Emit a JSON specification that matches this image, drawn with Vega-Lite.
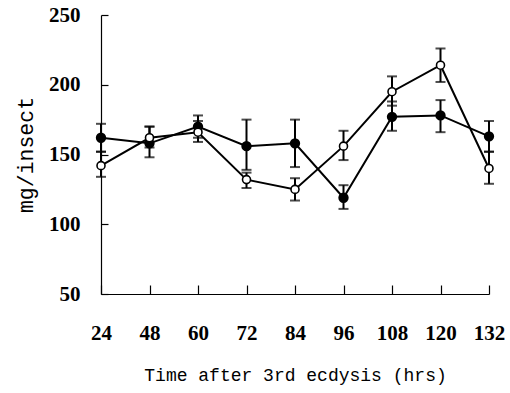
{
  "$schema": "https://vega.github.io/schema/vega-lite/v6.json",
  "width": 388,
  "height": 279,
  "autosize": "none",
  "padding": {"left": 101, "top": 15, "right": 21, "bottom": 99},
  "background": "white",
  "config": {"view": {"stroke": null}},
  "data": {"values": [
    {"t": "24", "s": "filled", "v": 162, "lo": 152, "hi": 172},
    {"t": "48", "s": "filled", "v": 158, "lo": 148, "hi": 170},
    {"t": "60", "s": "filled", "v": 170, "lo": 162, "hi": 178},
    {"t": "72", "s": "filled", "v": 156, "lo": 139, "hi": 175},
    {"t": "84", "s": "filled", "v": 158, "lo": 141, "hi": 175},
    {"t": "96", "s": "filled", "v": 119, "lo": 111, "hi": 128},
    {"t": "108", "s": "filled", "v": 177, "lo": 167, "hi": 188},
    {"t": "120", "s": "filled", "v": 178, "lo": 166, "hi": 189},
    {"t": "132", "s": "filled", "v": 163, "lo": 152, "hi": 174},
    {"t": "24", "s": "open", "v": 142, "lo": 134, "hi": 152},
    {"t": "48", "s": "open", "v": 162, "lo": 155, "hi": 170},
    {"t": "60", "s": "open", "v": 166, "lo": 159, "hi": 174},
    {"t": "72", "s": "open", "v": 132, "lo": 126, "hi": 137},
    {"t": "84", "s": "open", "v": 125, "lo": 117, "hi": 133},
    {"t": "96", "s": "open", "v": 156, "lo": 146, "hi": 167},
    {"t": "108", "s": "open", "v": 195, "lo": 185, "hi": 206},
    {"t": "120", "s": "open", "v": 214, "lo": 202, "hi": 226},
    {"t": "132", "s": "open", "v": 140, "lo": 129, "hi": 152}
  ]},
  "encoding": {
    "x": {
      "field": "t", "type": "ordinal", "sort": null,
      "scale": {"type": "point", "padding": 0},
      "axis": {
        "title": "Time after 3rd ecdysis (hrs)",
        "labelAngle": 0,
        "labelFont": "Liberation Serif", "labelFontSize": 21, "labelFontWeight": "bold", "labelColor": "#000",
        "labelPadding": 37, "labelBaseline": "top",
        "titleFont": "Liberation Mono", "titleFontSize": 18, "titleFontWeight": "normal", "titleColor": "#000",
        "titlePadding": 23,
        "domainColor": "#000", "domainWidth": 1.2,
        "tickColor": "#000", "tickSize": -9, "tickWidth": 1.2
      }
    }
  },
  "layer": [
    {
      "mark": {"type": "rule", "color": "#000", "strokeWidth": 2},
      "encoding": {
        "y": {"field": "lo", "type": "quantitative"},
        "y2": {"field": "hi"}
      }
    },
    {
      "mark": {"type": "tick", "color": "#000", "size": 10, "thickness": 2, "orient": "horizontal"},
      "encoding": {"y": {"field": "lo", "type": "quantitative"}}
    },
    {
      "mark": {"type": "tick", "color": "#000", "size": 10, "thickness": 2, "orient": "horizontal"},
      "encoding": {"y": {"field": "hi", "type": "quantitative"}}
    },
    {
      "mark": {"type": "line", "color": "#000", "strokeWidth": 2},
      "encoding": {
        "y": {"field": "v", "type": "quantitative"},
        "detail": {"field": "s"}
      }
    },
    {
      "transform": [{"filter": "datum.s === 'filled'"}],
      "mark": {"type": "point", "filled": true, "fill": "#000", "stroke": "#000", "size": 70, "opacity": 1},
      "encoding": {"y": {"field": "v", "type": "quantitative"}}
    },
    {
      "transform": [{"filter": "datum.s === 'open'"}],
      "mark": {"type": "point", "filled": true, "fill": "#fff", "stroke": "#000", "strokeWidth": 1.6, "size": 64, "opacity": 1},
      "encoding": {
        "y": {
          "field": "v", "type": "quantitative",
          "scale": {"domain": [50, 250], "nice": false, "zero": false},
          "axis": {
            "title": "mg/insect",
            "values": [50, 100, 150, 200, 250],
            "grid": false,
            "labelFont": "Liberation Serif", "labelFontSize": 21, "labelFontWeight": "bold", "labelColor": "#000",
            "labelPadding": 28,
            "titleFont": "Liberation Mono", "titleFontSize": 21.5, "titleFontWeight": "normal", "titleColor": "#000",
            "titlePadding": 11,
            "domainColor": "#000", "domainWidth": 1.2,
            "tickColor": "#000", "tickSize": -7, "tickWidth": 1.2
          }
        }
      }
    }
  ],
  "resolve": {"scale": {"y": "shared"}}
}
